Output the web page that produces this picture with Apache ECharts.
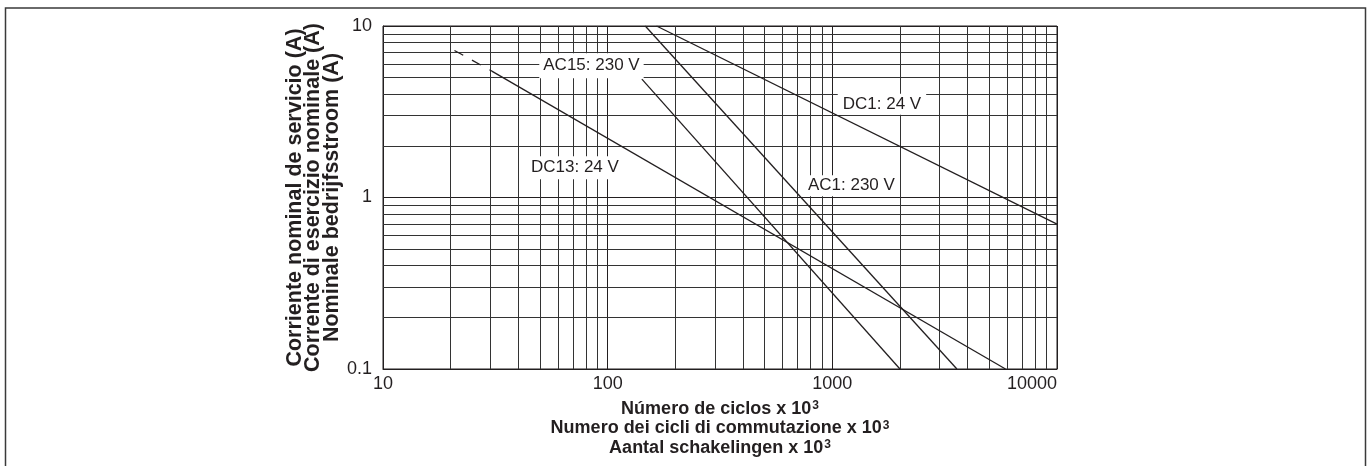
<!DOCTYPE html>
<html>
<head>
<meta charset="utf-8">
<script src="https://cdn.jsdelivr.net/npm/echarts@6/dist/echarts.min.js"></script>
<style>
html,body{margin:0;padding:0;background:#fff;}
#c{width:1367px;height:466px;}
</style>
</head>
<body>
<div id="c"></div>
<script>
// ---- data ----
const xTickLabels = ['10', '100', '1000', '10000'];
const yTickLabels = ['0.1', '1', '10'];
const xMinorGrid = [20,30,40,50,60,70,80,90,200,300,400,500,600,700,800,900,2000,3000,4000,5000,6000,7000,8000,9000];
const yMinorGrid = [0.2,0.3,0.4,0.5,0.6,0.7,0.8,0.9,2,3,4,5,6,7,8,9];

const dc1 = [[165, 10], [10000, 0.7]];
const ac1 = [[147, 10], [3585, 0.1]];
const ac15 = [[142, 4.9], [2000, 0.1]];
const dc13Dashed = [[20.8, 7.2], [30.5, 5.46]];
const dc13 = [[30.5, 5.46], [5900, 0.1]];

const seriesNames = ['DC1: 24 V', 'AC1: 230 V', 'AC15: 230 V', 'DC13: 24 V'];

const xName = 'Número de ciclos x 10{sup|3}\nNumero dei cicli di commutazione x 10{sup|3}\nAantal schakelingen x 10{sup|3}';
const yName = 'Corriente nominal de servicio (A)\nCorrente di esercizio nominale (A)\nNominale bedrijfsstroom (A)';

// ---- chart ----
const INK = '#231f20';
const FONT = '"Liberation Sans", Arial, Helvetica, sans-serif';
const chart = echarts.init(document.getElementById('c'), null, {renderer: 'canvas'});

function lineSeries(name, data, dashed) {
  return {
    name: name, type: 'line', data: data, symbol: 'none', z: 3,
    lineStyle: {color: INK, width: 1.3, type: dashed ? [10, 10] : 'solid'},
    silent: true, animation: false
  };
}
function labelPoint(text, coord, pad) {
  return {
    coord: coord, symbol: 'rect', symbolSize: 0,
    label: {
      show: true, position: 'inside', formatter: text,
      color: INK, fontSize: 17, fontFamily: FONT,
      backgroundColor: '#fff', padding: pad
    }
  };
}

const option = {
  backgroundColor: '#fff',
  animation: false,
  grid: {left: 383, right: 310, top: 26, bottom: 97, show: true, borderColor: INK, borderWidth: 1},
  graphic: [{
    type: 'rect', shape: {x: 5.5, y: 8, width: 1360, height: 520},
    style: {fill: null, stroke: '#3a3a3a', lineWidth: 1.5}, silent: true, z: 0
  }],
  xAxis: {
    type: 'log', logBase: 10, min: 10, max: 10000,
    name: xName, nameLocation: 'middle', nameGap: 30,
    nameTextStyle: {
      color: INK, fontSize: 18, fontWeight: 'bold', fontFamily: FONT, lineHeight: 19.5,
      rich: {
        sup: {color: INK, fontSize: 12, fontWeight: 'bold', fontFamily: FONT, lineHeight: 13, verticalAlign: 'top', padding: [1, 0, 0, 1]}
      }
    },
    axisLine: {show: true, lineStyle: {color: INK, width: 1}},
    axisTick: {show: false},
    axisLabel: {
      color: INK, fontSize: 18, fontFamily: FONT, margin: 6,
      alignMaxLabel: 'right',
      formatter: function (v) { const s = String(Math.round(v)); return xTickLabels.indexOf(s) >= 0 ? s : ''; }
    },
    splitLine: {show: true, lineStyle: {color: INK, width: 1}}
  },
  yAxis: {
    type: 'log', logBase: 10, min: 0.1, max: 10,
    name: yName, nameLocation: 'middle', nameGap: 38,
    nameTextStyle: {color: INK, fontSize: 21.5, fontWeight: 'bold', fontFamily: FONT, lineHeight: 18.5},
    axisLine: {show: true, lineStyle: {color: INK, width: 1}},
    axisTick: {show: false},
    axisLabel: {
      color: INK, fontSize: 18, fontFamily: FONT, margin: 11,
      formatter: function (v) { const s = v < 1 ? String(Math.round(v * 10) / 10) : String(Math.round(v)); return yTickLabels.indexOf(s) >= 0 ? s : ''; }
    },
    splitLine: {show: true, lineStyle: {color: INK, width: 1}}
  },
  series: [
    {
      name: 'grid', type: 'line', data: [], silent: true, z: 1,
      markLine: {
        silent: true, symbol: 'none', animation: false, z: 1,
        label: {show: false},
        lineStyle: {color: '#333', width: 1, type: 'solid'},
        data: xMinorGrid.map(v => ({xAxis: v})).concat(yMinorGrid.map(v => ({yAxis: v})))
      }
    },
    lineSeries(seriesNames[0], dc1, false),
    lineSeries(seriesNames[1], ac1, false),
    lineSeries(seriesNames[2], ac15, false),
    lineSeries(seriesNames[3], dc13, false),
    lineSeries(seriesNames[3] + ' (ext)', dc13Dashed, true),
    {
      name: 'labels', type: 'line', data: [], silent: true, z: 10,
      markPoint: {
        silent: true, animation: false, z: 10,
        data: [
          labelPoint(seriesNames[0], [1663, 3.5], [2, 5]),
          labelPoint(seriesNames[1], [1216, 1.17], [2, 5]),
          labelPoint(seriesNames[2], [84.7, 5.87], [4, 4]),
          labelPoint(seriesNames[3], [71.5, 1.49], [3, 5])
        ]
      }
    }
  ]
};
chart.setOption(option);
</script>
</body>
</html>
